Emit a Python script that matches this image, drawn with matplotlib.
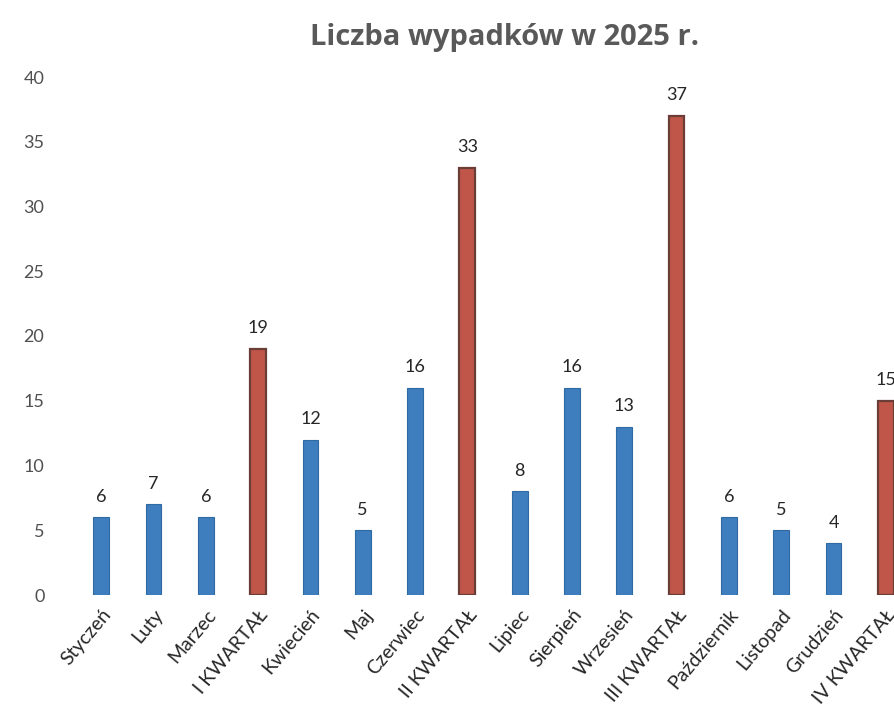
import matplotlib
matplotlib.use("Agg")
import matplotlib.pyplot as plt
import matplotlib.transforms as mtransforms

categories = ["Styczeń", "Luty", "Marzec", "I KWARTAŁ", "Kwiecień", "Maj", "Czerwiec",
              "II KWARTAŁ", "Lipiec", "Sierpień", "Wrzesień", "III KWARTAŁ",
              "Październik", "Listopad", "Grudzień", "IV KWARTAŁ"]
values = [6, 7, 6, 19, 12, 5, 16, 33, 8, 16, 13, 37, 6, 5, 4, 15]
is_quarter = [c.endswith("KWARTAŁ") for c in categories]
yticks = [0, 5, 10, 15, 20, 25, 30, 35, 40]

plt.rcParams['font.family'] = ['Lato', 'DejaVu Sans']

fig = plt.figure(figsize=(8.95, 7.06), dpi=100)
ax = fig.add_axes([75/895, 111/706, 837/895, 518/706])

blue = "#3E7EBE"
red = "#C0564A"
x = list(range(len(categories)))
for xi, v, q in zip(x, values, is_quarter):
    if q:
        ax.bar(xi, v, width=0.3, color=red, edgecolor="#6A3E36", linewidth=1.6)
    else:
        ax.bar(xi, v, width=0.3, color=blue, edgecolor="#2F6AA3", linewidth=0.8)
    ax.annotate(str(v), (xi, v), xytext=(0, 9), textcoords="offset points",
                ha="center", va="bottom", fontsize=13, color="#262626")

ax.set_xlim(-0.5, len(categories) - 0.5)
ax.set_ylim(0, 40)
ax.set_yticks(yticks)
ax.set_yticklabels([str(t) for t in yticks], fontsize=13, color="#505050")
ax.tick_params(axis="y", length=0, pad=22)
ax.set_xticks(x)
offset = mtransforms.ScaledTranslation(20/100, 0, fig.dpi_scale_trans)
ax.set_xticklabels(categories, rotation=50, ha="right", va="top", rotation_mode="anchor",
                   fontsize=14, color="#262626")
for lbl in ax.get_xticklabels():
    lbl.set_transform(lbl.get_transform() + offset)
ax.tick_params(axis="x", length=0, pad=8)
for s in ax.spines.values():
    s.set_visible(False)

fig.text(505/895, 1 - 38/706, "Liczba wypadków w 2025 r.", ha="center", va="center",
         fontsize=21, fontweight="bold", color="#595959", family=["Open Sans", "DejaVu Sans"])

fig.savefig("out.png", dpi=100, facecolor="white")
